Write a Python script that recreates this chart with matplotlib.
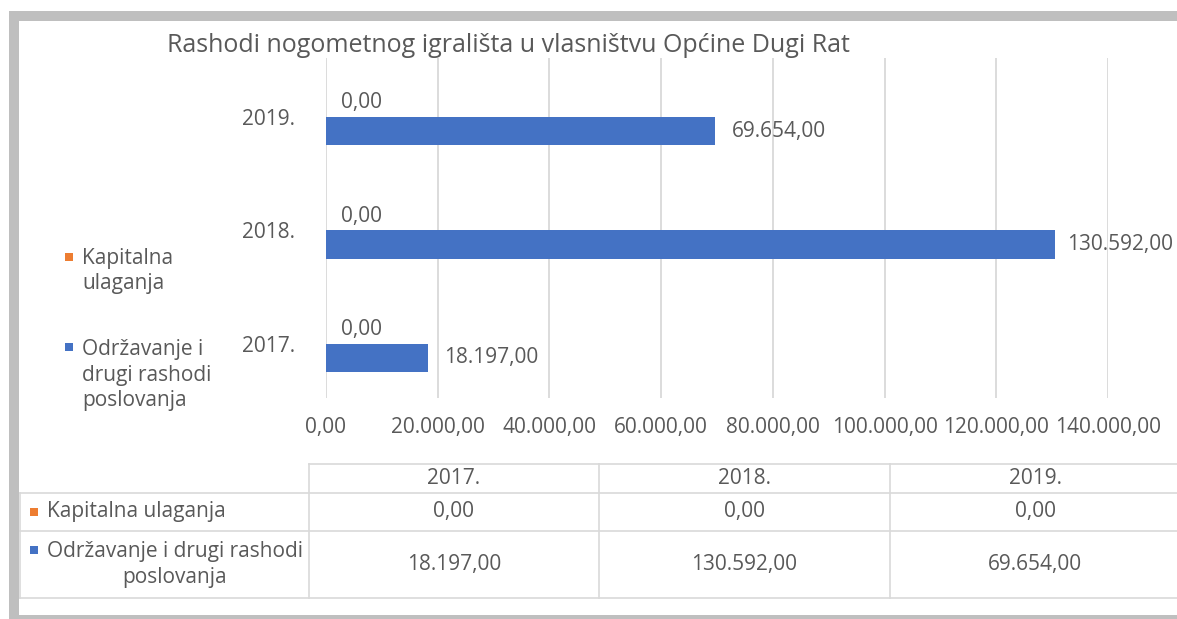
import matplotlib.pyplot as plt
import numpy as np
from matplotlib.patches import Rectangle

# data
years = ['2017.', '2018.', '2019.']
kapitalna = [0, 0, 0]
odrzavanje = [18197, 130592, 69654]
xticks = [0, 20000, 40000, 60000, 80000, 100000, 120000, 140000]
title = 'Rashodi nogometnog igrališta u vlasništvu Općine Dugi Rat'

blue = '#4472C4'
orange = '#ED7D31'
txt = '#595959'
grid = '#D9D9D9'

plt.rcParams['font.family'] = ['Open Sans', 'DejaVu Sans']
plt.rcParams['font.size'] = 15
plt.rcParams['text.color'] = txt


def fmt(v):
    s = f'{v:,.2f}'
    return s.replace(',', 'X').replace('.', ',').replace('X', '.')


W, H = 1177, 619
fig = plt.figure(figsize=(W / 100, H / 100), dpi=100)

# background layer in pixel coords (frame, legend, table)
bg = fig.add_axes([0, 0, 1, 1])
bg.set_xlim(0, W)
bg.set_ylim(H, 0)
bg.axis('off')
bg.add_patch(Rectangle((9, 11), W, H, color='#BFBFBF', lw=0))
bg.add_patch(Rectangle((19, 21), W, 594, color='white', lw=0))

# chart
ax = fig.add_axes([326 / W, 1 - 398 / H, (1108 - 326) / W, (398 - 58) / H])
ax.patch.set_alpha(0)
y = np.arange(len(years))
h = 0.25
ax.barh(y - h / 2, odrzavanje, h, color=blue, zorder=2)
ax.barh(y + h / 2, kapitalna, h, color=orange, zorder=2)
ax.set_xlim(0, 140000)
ax.set_ylim(-0.48, 2.52)
ax.set_xticks(xticks)
ax.set_xticklabels([fmt(v) for v in xticks], color=txt)
ax.set_yticks(y)
ax.set_yticklabels(years, color=txt)
ax.tick_params(length=0)
ax.tick_params(axis='x', pad=14)
ax.tick_params(axis='y', pad=22)
ax.grid(axis='x', color=grid, lw=1.3, zorder=0)
for s in ax.spines.values():
    s.set_visible(False)

labels = []
for yi, v in zip(y, odrzavanje):
    labels.append(ax.annotate(fmt(v), (v, yi - h / 2), xytext=(12, 0),
                              textcoords='offset points', va='center'))
for yi, v in zip(y, kapitalna):
    labels.append(ax.annotate(fmt(v), (v, yi + h / 2), xytext=(11, 0),
                              textcoords='offset points', va='center'))

# keep labels inside the figure
fig.canvas.draw()
r = fig.canvas.get_renderer()
for t in labels:
    bb = t.get_window_extent(r)
    if bb.x1 > W - 4:
        dx = (bb.x1 - (W - 4)) * 72 / 100
        x0, y0 = t.get_position()
        t.set_position((x0 - dx, y0))

fig.text(508 / W, 1 - 45 / H, title, ha='center', va='center', fontsize=18)

# left legend
bg.add_patch(Rectangle((65, 253), 8, 8, color=orange, lw=0))
bg.text(82, 271, 'Kapitalna\nulaganja', va='center', ha='left', linespacing=1.3)
bg.add_patch(Rectangle((65, 343), 8, 8, color=blue, lw=0))
bg.text(82, 375, 'Održavanje i\ndrugi rashodi\nposlovanja', va='center',
        ha='left', linespacing=1.3)

# data table
cols = [309, 599, 890, 1180]
rows = [464, 493, 531, 598]
lw = 1.2
bg.plot([cols[0], cols[-1]], [rows[0], rows[0]], color=grid, lw=lw)
for ry in rows[1:]:
    bg.plot([20, cols[-1]], [ry, ry], color=grid, lw=lw)
bg.plot([20, 20], [rows[1], rows[-1]], color=grid, lw=lw)
for cx in cols:
    bg.plot([cx, cx], [rows[0], rows[-1]], color=grid, lw=lw)

for i, yr in enumerate(years):
    cx = (cols[i] + cols[i + 1]) / 2
    bg.text(cx, (rows[0] + rows[1]) / 2, yr, ha='center', va='center')
    bg.text(cx, (rows[1] + rows[2]) / 2, fmt(kapitalna[i]), ha='center', va='center')
    bg.text(cx, (rows[2] + rows[3]) / 2, fmt(odrzavanje[i]), ha='center', va='center')

bg.add_patch(Rectangle((30, 508), 8, 8, color=orange, lw=0))
bg.text(47, (rows[1] + rows[2]) / 2, 'Kapitalna ulaganja', ha='left', va='center')
bg.add_patch(Rectangle((30, 546), 8, 8, color=blue, lw=0))
bg.text(47, (rows[2] + rows[3]) / 2, 'Održavanje i drugi rashodi\nposlovanja',
        ha='left', va='center', multialignment='center', linespacing=1.3)

fig.savefig('out.png', dpi=100)
